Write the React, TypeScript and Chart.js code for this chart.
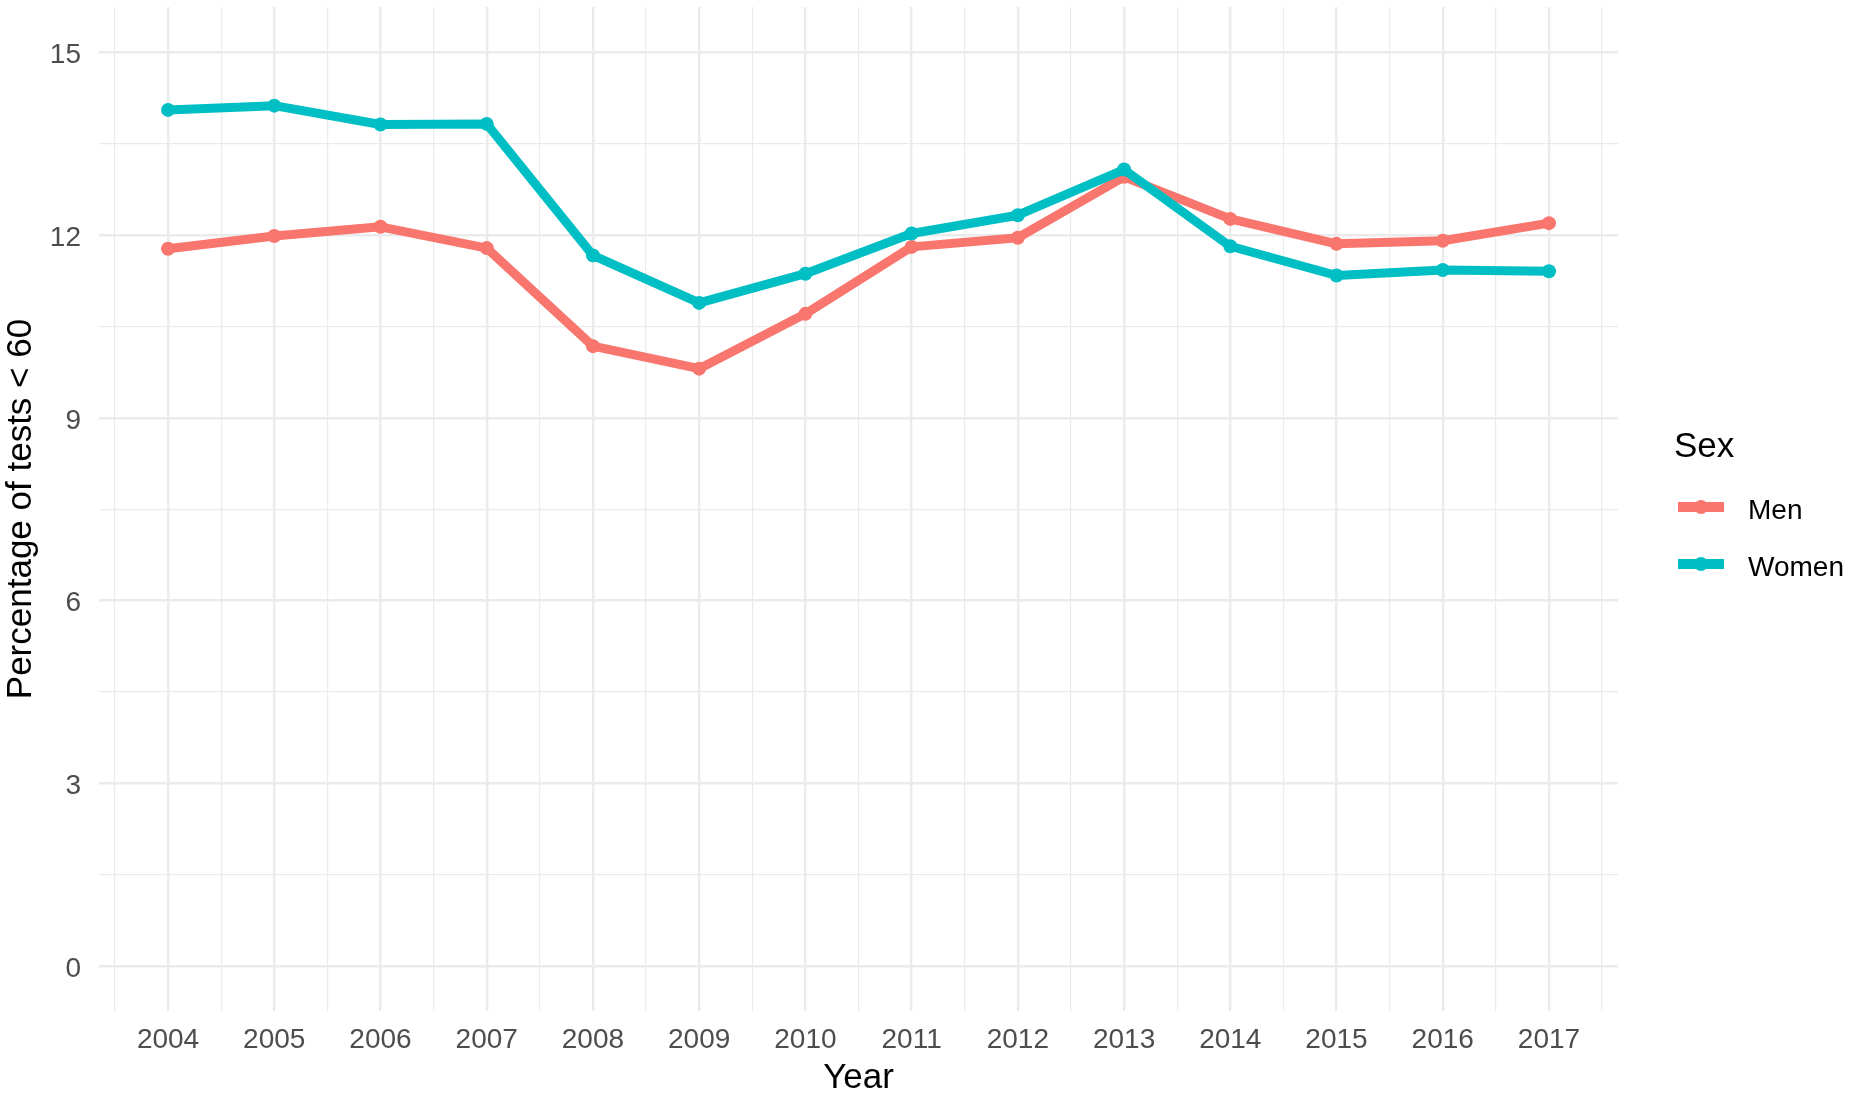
import React, { useEffect, useRef } from 'react';
import Chart from 'chart.js/auto';

const years = [2004, 2005, 2006, 2007, 2008, 2009, 2010, 2011, 2012, 2013, 2014, 2015, 2016, 2017];
const men = [11.78, 11.99, 12.14, 11.79, 10.18, 9.81, 10.71, 11.81, 11.96, 12.96, 12.27, 11.86, 11.91, 12.2];
const women = [14.06, 14.13, 13.82, 13.83, 11.67, 10.89, 11.37, 12.03, 12.33, 13.08, 11.82, 11.34, 11.43, 11.41];
const seriesNames = ['Men', 'Women'];
const seriesColors = ['#F8766D', '#00BFC4'];
const legendTitle = 'Sex';
const xTitle = 'Year';
const yTitle = 'Percentage of tests < 60';

const FONT = "'Liberation Sans', Arial, Helvetica, sans-serif";
const GRID = '#EBEBEB';

// ggplot-style legend on the right of the panel
const sexLegend = {
  id: 'sexLegend',
  afterDraw(chart: any) {
    const { ctx, chartArea } = chart;
    const right = chartArea.right;
    const yc = (chartArea.top + chartArea.bottom) / 2;
    ctx.save();
    ctx.fillStyle = '#000000';
    ctx.textAlign = 'left';
    ctx.textBaseline = 'alphabetic';
    ctx.font = `35px ${FONT}`;
    ctx.fillText(legendTitle, right + 56, yc - 52);

    ctx.font = `28px ${FONT}`;
    chart.data.datasets.forEach((ds: any, i: number) => {
      const cy = yc - 2 + i * 57;
      const x0 = right + 60;
      const x1 = right + 106;
      ctx.strokeStyle = ds.borderColor;
      ctx.lineWidth = 10;
      ctx.lineCap = 'butt';
      ctx.beginPath();
      ctx.moveTo(x0, cy);
      ctx.lineTo(x1, cy);
      ctx.stroke();
      ctx.fillStyle = ds.borderColor;
      ctx.beginPath();
      ctx.arc((x0 + x1) / 2, cy, 7, 0, Math.PI * 2);
      ctx.fill();
      ctx.fillStyle = '#000000';
      ctx.fillText(ds.label, right + 130, cy + 11.5);
    });
    ctx.restore();
  },
};

const App: React.FC = () => {
  const chartRef = useRef<HTMLCanvasElement>(null);
  const chartInstance = useRef<Chart | null>(null);

  useEffect(() => {
    if (!chartRef.current) return;
    if (chartInstance.current) chartInstance.current.destroy();

    Chart.defaults.font.family = FONT;

    const series = [men, women];
    const datasets = series.map((vals, i) => ({
      label: seriesNames[i],
      data: years.map((x, j) => ({ x, y: vals[j] })),
      borderColor: seriesColors[i],
      backgroundColor: seriesColors[i],
      pointBackgroundColor: seriesColors[i],
      pointBorderWidth: 0,
      pointRadius: 7,
      pointHoverRadius: 7,
      borderWidth: 9,
      borderJoinStyle: 'round' as const,
      borderCapStyle: 'butt' as const,
      tension: 0,
      fill: false,
      order: series.length - i,
    }));

    const ctx = chartRef.current.getContext('2d');
    if (!ctx) return;

    chartInstance.current = new Chart(ctx, {
      type: 'line',
      data: { datasets },
      plugins: [sexLegend],
      options: {
        animation: false,
        responsive: true,
        maintainAspectRatio: false,
        layout: { padding: { top: 7, right: 236, left: 0, bottom: 0 } },
        plugins: {
          legend: { display: false },
          tooltip: { enabled: false },
        },
        scales: {
          x: {
            type: 'linear',
            min: 2003.35,
            max: 2017.65,
            border: { display: false },
            grid: {
              color: GRID,
              drawTicks: false,
              lineWidth: (c: any) => (Number.isInteger(c.tick?.value) ? 2.4 : 1.2),
            },
            ticks: {
              stepSize: 0.5,
              includeBounds: false,
              autoSkip: false,
              maxRotation: 0,
              padding: 12,
              color: '#4D4D4D',
              font: { size: 28 },
              callback: (v: any) => (Number.isInteger(v) ? String(v) : ''),
            },
            title: {
              display: true,
              text: xTitle,
              color: '#000000',
              font: { size: 35 },
              padding: { top: 0, bottom: 1 },
            },
            afterFit: (scale: any) => {
              scale.height = 89;
              scale.paddingLeft = 0;
              scale.paddingRight = 0;
            },
          },
          y: {
            type: 'linear',
            min: -0.74,
            max: 15.75,
            border: { display: false },
            grid: {
              color: GRID,
              drawTicks: false,
              lineWidth: (c: any) => (Math.abs((c.tick?.value ?? 0) % 3) < 1e-9 ? 2.4 : 1.2),
            },
            ticks: {
              stepSize: 1.5,
              includeBounds: false,
              autoSkip: false,
              padding: 18,
              labelOffset: 3,
              color: '#4D4D4D',
              font: { size: 28 },
              callback: (v: any) => (Math.abs(Number(v) % 3) < 1e-9 ? String(v) : ''),
            },
            title: {
              display: true,
              text: yTitle,
              color: '#000000',
              font: { size: 35 },
              padding: { top: 0, bottom: 0 },
            },
            afterFit: (scale: any) => {
              scale.width = 99;
              scale.paddingTop = 0;
              scale.paddingBottom = 0;
            },
          },
        },
      },
    });

    return () => {
      if (chartInstance.current) {
        chartInstance.current.destroy();
        chartInstance.current = null;
      }
    };
  }, []);

  return (
    <div style={{ position: 'fixed', left: 0, top: 0, width: 1854, height: 1100, background: '#ffffff' }}>
      <canvas ref={chartRef}></canvas>
    </div>
  );
};

export default App;
